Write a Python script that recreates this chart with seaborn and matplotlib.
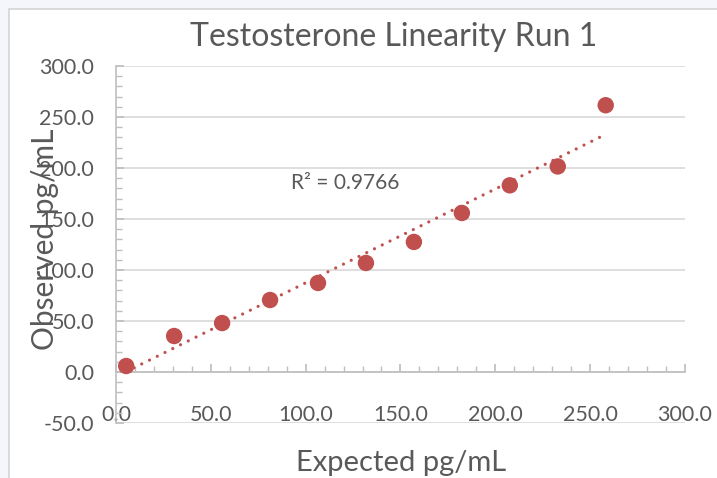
import numpy as np
import pandas as pd
import matplotlib
matplotlib.use("Agg")
import matplotlib.pyplot as plt
from matplotlib.patches import Rectangle
from matplotlib.ticker import MultipleLocator, FormatStrFormatter
import seaborn as sns

expected = [5.3, 30.6, 55.9, 81.2, 106.5, 131.8, 157.1, 182.4, 207.7, 233.0, 258.3]
observed = [5.9, 35.3, 48.0, 70.6, 87.3, 106.9, 127.5, 155.9, 183.0, 201.5, 261.5]
r2_label = "R² = 0.9766"
title = "Testosterone Linearity Run 1"
xlabel = "Expected pg/mL"
ylabel = "Observed pg/mL"

df = pd.DataFrame({"Expected": expected, "Observed": observed})

sns.set_theme(style="white")
plt.rcParams['font.family'] = ['Lato', 'DejaVu Sans']

grey = "#595959"
axis_col = "#bfbfbf"
red = "#c0504d"

fig = plt.figure(figsize=(7.17, 4.78), dpi=100, facecolor="#f4f6fb")
# chart area frame (screenshot border)
fig.patches.append(Rectangle((8.5 / 717, -0.01), 1.02, 1.01 - 8.5 / 478, transform=fig.transFigure,
                             facecolor="white", edgecolor="#d4d4d4", linewidth=1.2, zorder=-5))

ax = fig.add_axes([0.162, 0.115, 0.793, 0.747])
ax.set_zorder(2)
ax.set_facecolor("none")

ax.set_xlim(0, 300)
ax.set_ylim(-50, 300)

ax.yaxis.set_major_locator(MultipleLocator(50))
ax.yaxis.set_minor_locator(MultipleLocator(10))
ax.xaxis.set_major_locator(MultipleLocator(50))
ax.xaxis.set_minor_locator(MultipleLocator(10))
ax.xaxis.set_major_formatter(FormatStrFormatter("%.1f"))
ax.yaxis.set_major_formatter(FormatStrFormatter("%.1f"))

ax.grid(axis="y", which="major", color="#d9d9d9", linewidth=1.2)
ax.set_axisbelow(True)

for s in ["top", "right"]:
    ax.spines[s].set_visible(False)
ax.spines["bottom"].set_position(("data", 0))
ax.spines["bottom"].set_color(axis_col)
ax.spines["left"].set_color(axis_col)
ax.spines["bottom"].set_linewidth(1.2)
ax.spines["left"].set_linewidth(1.2)

ax.tick_params(axis="y", which="major", direction="in", length=6, color=axis_col,
               labelsize=15.5, labelcolor=grey, pad=16, left=True)
ax.tick_params(axis="y", which="minor", direction="in", length=4, color=axis_col, left=True)
ax.tick_params(axis="x", which="major", direction="in", length=6, color=axis_col,
               labelsize=15.5, labelcolor=grey, pad=24, bottom=True)
ax.tick_params(axis="x", which="minor", direction="in", length=4, color=axis_col, bottom=True)

# trendline
coef = np.polyfit(df["Expected"], df["Observed"], 1)
xs = np.array([min(expected), max(expected)])
ax.plot(xs, np.polyval(coef, xs), linestyle=(0, (0.01, 2.7)), color=red,
        linewidth=2.3, dash_capstyle="round", zorder=2)

sns.scatterplot(data=df, x="Expected", y="Observed", ax=ax, color=red, s=140,
                edgecolor="none", zorder=3, legend=False)

ax.text(121, 185, r2_label, fontsize=15, color=grey, ha="center", va="center")

ax.set_xlabel("")
ax.set_ylabel("")
fig.text(0.549, 0.922, title, fontsize=23, color=grey, ha="center", va="center")
fig.text(0.56, 0.032, xlabel, fontsize=21, color=grey, ha="center", va="center")
fig.text(0.063, 0.50, ylabel, fontsize=21.5, color=grey, ha="center", va="center", rotation=90)

fig.savefig("out.png", dpi=100, facecolor=fig.get_facecolor())
